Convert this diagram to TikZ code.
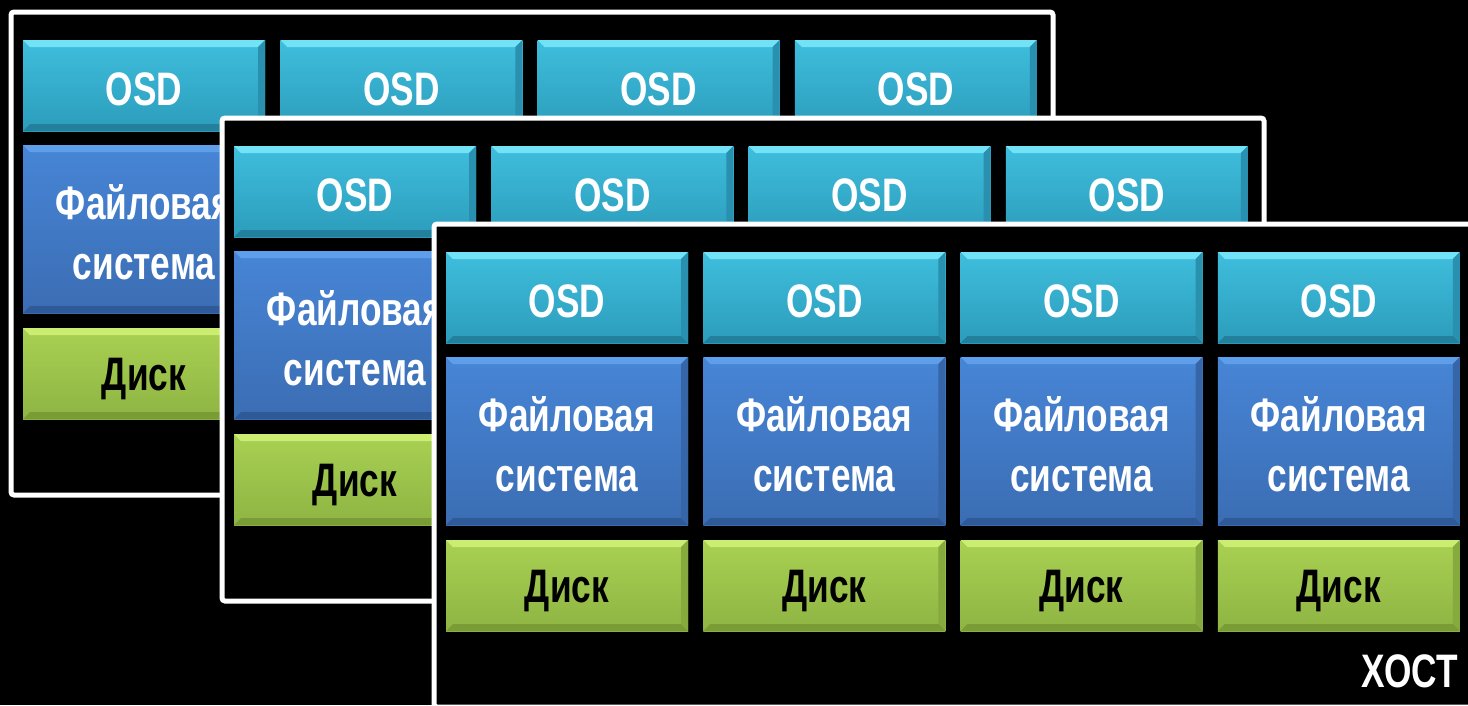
\documentclass[tikz,border=0pt]{standalone}
\usepackage{fontspec}
\newfontfamily\condfont{Liberation Sans}[FakeStretch=0.75]
\definecolor{osdHi}{HTML}{72E2F6}
\definecolor{osdT}{HTML}{3FBEDD}
\definecolor{osdB}{HTML}{2C9CBB}
\definecolor{osdLo}{HTML}{23809C}
\definecolor{osdR}{HTML}{2990AF}
\definecolor{fsHi}{HTML}{5E9EEA}
\definecolor{fsT}{HTML}{4785D6}
\definecolor{fsB}{HTML}{3B6DB3}
\definecolor{fsLo}{HTML}{2F5A98}
\definecolor{fsR}{HTML}{3766A8}
\definecolor{dkHi}{HTML}{CBEE72}
\definecolor{dkT}{HTML}{A9D152}
\definecolor{dkB}{HTML}{8EB443}
\definecolor{dkLo}{HTML}{7A9C36}
\definecolor{dkR}{HTML}{86AA3E}
\newcommand\bevel[3]{%
  \fill[#1] (path picture bounding box.north west) -- (path picture bounding box.north east)
     -- ([shift={(-7pt,-7pt)}]path picture bounding box.north east) -- ([shift={(7pt,-7pt)}]path picture bounding box.north west) -- cycle;
  \fill[#2] (path picture bounding box.north east) -- (path picture bounding box.south east)
     -- ([shift={(-7pt,7pt)}]path picture bounding box.south east) -- ([shift={(-7pt,-7pt)}]path picture bounding box.north east) -- cycle;
  \fill[#3] (path picture bounding box.south west) -- (path picture bounding box.south east)
     -- ([shift={(-7pt,7pt)}]path picture bounding box.south east) -- ([shift={(7pt,7pt)}]path picture bounding box.south west) -- cycle;
}
\tikzset{
  box/.style={anchor=north west, minimum width=242pt, inner sep=0pt, outer sep=0pt,
    font=\condfont\bfseries\fontsize{47}{60}\selectfont, align=center},
  osdbox/.style={box, minimum height=91pt, top color=osdT, bottom color=osdB, text=white,
    text height=39pt, text depth=0pt,
    path picture={\bevel{osdHi}{osdR}{osdLo}}},
  fsbox/.style={box, minimum height=168pt, top color=fsT, bottom color=fsB, text=white,
    path picture={\bevel{fsHi}{fsR}{fsLo}}},
  diskbox/.style={box, minimum height=91pt, top color=dkT, bottom color=dkB, text=black,
    text height=41pt, text depth=8pt,
    path picture={\bevel{dkHi}{dkR}{dkLo}}},
  panelframe/.style={anchor=north west, minimum width=1042pt, minimum height=483pt,
    inner sep=0pt, outer sep=0pt, draw=white, line width=5pt, fill=black, rounded corners=3pt},
  hostlabel/.style={anchor=base east, text=white, inner sep=0pt,
    font=\condfont\bfseries\fontsize{47}{60}\selectfont}
}
\newcommand\drawpanel[3]{%
  \node[panelframe] (#1) at (#2,#3) {};
  \foreach \i in {0,1,2,3} {
    \node[osdbox] (#1-osd-\i) at (#2+12+257.3*\i,#3+28) {OSD};
    \node[fsbox] (#1-fs-\i) at (#2+12+257.3*\i,#3+133) {\rule{0pt}{41pt}Файловая\\система};
    \node[diskbox] (#1-disk-\i) at (#2+12+257.3*\i,#3+316) {Диск};
  }
}
\begin{document}
\begin{tikzpicture}[x=1pt,y=-1pt]
  \fill[black] (0,0) rectangle (1468,705);
  \useasboundingbox (0,0) rectangle (1468,705);
  \drawpanel{pa}{11}{12}
  \drawpanel{pb}{222}{118}
  \drawpanel{pc}{434}{224}
  \node[hostlabel] (host) at (1458,687) {ХОСТ};
\end{tikzpicture}
\end{document}
